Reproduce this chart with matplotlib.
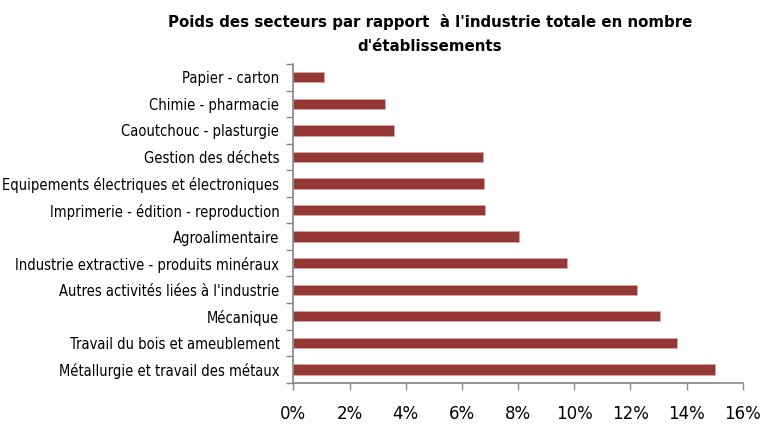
import numpy as np
import matplotlib.pyplot as plt
from matplotlib.ticker import FuncFormatter

# secteurs, du haut vers le bas
secteurs = [
    "Papier - carton",
    "Chimie - pharmacie",
    "Caoutchouc - plasturgie",
    "Gestion des déchets",
    "Equipements électriques et électroniques",
    "Imprimerie - édition - reproduction",
    "Agroalimentaire",
    "Industrie extractive - produits minéraux",
    "Autres activités liées à l'industrie",
    "Mécanique",
    "Travail du bois et ameublement",
    "Métallurgie et travail des métaux",
]
poids = [1.08, 3.28, 3.58, 6.76, 6.77, 6.82, 8.05, 9.74, 12.24, 13.04, 13.67, 15.03]
xticks = [0, 2, 4, 6, 8, 10, 12, 14, 16]

titre = "Poids des secteurs par rapport  à l'industrie totale en nombre\nd'établissements"

gris = "#868686"
rouge = "#953735"

fig = plt.figure(figsize=(7.66, 4.26), dpi=100)
ax = fig.add_axes([0.383, 0.1017, 0.5866, 0.7481])

y = np.arange(len(secteurs))
ax.barh(y, poids, height=0.39, color=rouge, edgecolor="#d9a8a7", linewidth=0.5)

ax.set_xlim(0, 16)
ax.set_ylim(len(secteurs) - 0.5, -0.5)
ax.set_xticks(xticks)
ax.xaxis.set_major_formatter(FuncFormatter(lambda v, p: f"{int(v)}%"))
ax.set_yticks(y)
ax.set_yticklabels(secteurs, fontsize=10.5, family="DejaVu Sans", stretch="condensed")
ax.set_yticks(np.arange(-0.5, len(secteurs)), minor=True)

ax.tick_params(axis="y", which="major", length=0, pad=10)
ax.tick_params(axis="y", which="minor", length=5, color=gris, width=1)
ax.tick_params(axis="x", length=5, color=gris, width=1, labelsize=12, pad=11)

for s in ["top", "right"]:
    ax.spines[s].set_visible(False)
for s in ["left", "bottom"]:
    ax.spines[s].set_color(gris)
    ax.spines[s].set_linewidth(1.2)

fig.text(0.561, 0.968, titre, ha="center", va="top", fontsize=10.8,
         fontweight="bold", linespacing=1.75)

fig.savefig("out.png", dpi=100)
